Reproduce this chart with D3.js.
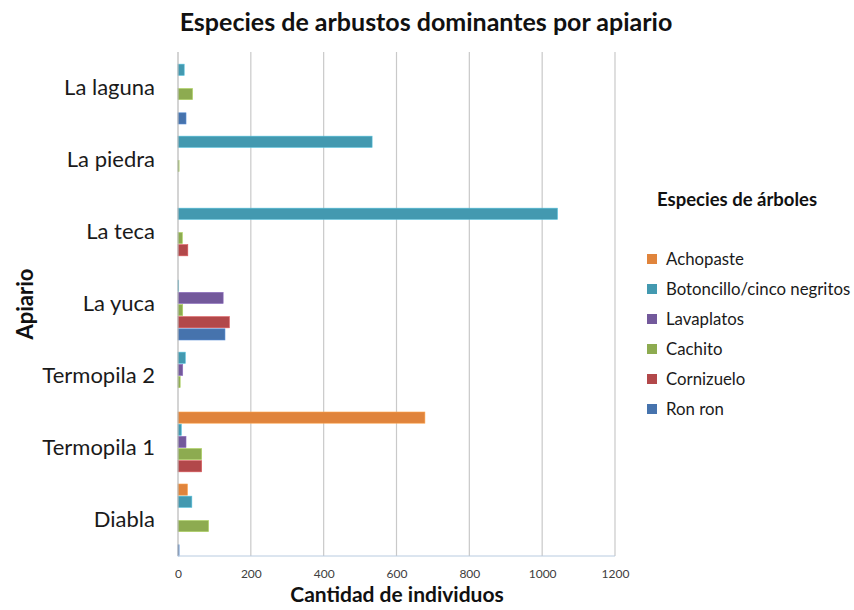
<!DOCTYPE html>
<html>
<head>
<meta charset="utf-8">
<script src="https://cdn.jsdelivr.net/npm/d3@7"></script>
<style>
body { margin: 0; background: #fff; }
svg text { font-family: Lato, "Open Sans", sans-serif; }
</style>
</head>
<body>
<div id="chart"></div>
<script>
let apiarios = ["La laguna", "La piedra", "La teca", "La yuca", "Termopila 2", "Termopila 1", "Diabla"];
let especies = ["Achopaste", "Botoncillo/cinco negritos", "Lavaplatos", "Cachito", "Cornizuelo", "Ron ron"];

// values per apiario, same order as apiarios
let achopaste  = [0, 0, 0, 0, 0, 678, 26];
let botoncillo = [17, 533, 1042, 2, 20, 9, 38];
let lavaplatos = [0, 0, 0, 124, 13, 22, 0];
let cachito    = [40, 3, 12, 13, 6, 65, 84];
let cornizuelo = [0, 0, 27, 141, 0, 65, 0];
let ronron     = [22, 0, 0, 129, 0, 0, 3];

let xTicks = [0, 200, 400, 600, 800, 1000, 1200];
let colores = ["#E0843C", "#4399B0", "#73599B", "#8DAB50", "#B2484A", "#4673AD"];

let series = [achopaste, botoncillo, lavaplatos, cachito, cornizuelo, ronron];

let dimension = {
    width: 854,
    height: 610,
    margin: { top: 52, left: 178, right: 239, bottom: 54 }
};

let svg = d3.select("#chart")
    .append("svg")
    .attr("width", dimension.width)
    .attr("height", dimension.height);

let X = d3.scaleLinear()
    .domain([0, 1200])
    .range([dimension.margin.left, dimension.width - dimension.margin.right]);

let Y = d3.scaleBand()
    .domain(apiarios)
    .range([dimension.margin.top, dimension.height - dimension.margin.bottom]);

let Yinner = d3.scaleBand()
    .domain(especies)
    .range([0, Y.bandwidth()])
    .paddingInner(0.08);

// gridlines
svg.append("g")
    .selectAll("line")
    .data(xTicks.slice(1))
    .enter()
    .append("line")
    .attr("x1", d => X(d))
    .attr("x2", d => X(d))
    .attr("y1", Y.range()[0])
    .attr("y2", Y.range()[1])
    .attr("stroke", "#c9c9c9")
    .attr("stroke-width", 1.2);

// bars
let rows = [];
apiarios.forEach((a, i) => {
    especies.forEach((e, j) => {
        rows.push({ apiario: a, especie: e, value: series[j][i], color: colores[j] });
    });
});

svg.append("g")
    .selectAll("rect")
    .data(rows.filter(d => d.value > 0))
    .enter()
    .append("rect")
    .attr("x", X(0))
    .attr("y", d => Y(d.apiario) + Yinner(d.especie))
    .attr("height", Yinner.bandwidth())
    .attr("width", d => X(d.value) - X(0))
    .attr("fill", d => d.color)
    .attr("stroke", d => d3.color(d.color).brighter(0.6))
    .attr("stroke-width", 0.6);

// axis lines
svg.append("line")
    .attr("x1", X(0)).attr("x2", X(0))
    .attr("y1", Y.range()[0]).attr("y2", Y.range()[1])
    .attr("stroke", "#b8b8b8").attr("stroke-width", 1.2);
svg.append("line")
    .attr("x1", X(0)).attr("x2", X(1200))
    .attr("y1", Y.range()[1]).attr("y2", Y.range()[1])
    .attr("stroke", "#b8cbe0").attr("stroke-width", 1);

// x tick labels
let Xaxis = d3.axisBottom(X).tickValues(xTicks).tickFormat(d3.format("d")).tickSize(0).tickPadding(13);
let gx = svg.append("g")
    .attr("transform", "translate(0," + Y.range()[1] + ")")
    .call(Xaxis);
gx.select(".domain").remove();
gx.selectAll("text")
    .attr("font-size", 12)
    .attr("fill", "#404040");

// y category labels
let Yaxis = d3.axisLeft(Y).tickSize(0).tickPadding(23);
let gy = svg.append("g")
    .attr("transform", "translate(" + X(0) + ",0)")
    .call(Yaxis);
gy.select(".domain").remove();
gy.selectAll("text")
    .attr("font-size", 22)
    .attr("fill", "#1a1a1a");

// titles
svg.append("text")
    .attr("x", 426)
    .attr("y", 31)
    .attr("text-anchor", "middle")
    .attr("font-size", 25)
    .attr("font-weight", "bold")
    .attr("fill", "#111")
    .text("Especies de arbustos dominantes por apiario");

svg.append("text")
    .attr("x", 397)
    .attr("y", 602)
    .attr("text-anchor", "middle")
    .attr("font-size", 21)
    .attr("font-weight", "bold")
    .attr("fill", "#111")
    .text("Cantidad de individuos");

svg.append("text")
    .attr("transform", "translate(33,304) rotate(-90)")
    .attr("text-anchor", "middle")
    .attr("font-size", 22)
    .attr("font-weight", "bold")
    .attr("fill", "#111")
    .text("Apiario");

// legend
svg.append("text")
    .attr("x", 657)
    .attr("y", 206)
    .attr("font-size", 18.5)
    .attr("font-weight", "bold")
    .attr("fill", "#111")
    .text("Especies de árboles");

let legend = svg.append("g")
    .selectAll("g")
    .data(especies)
    .enter()
    .append("g")
    .attr("transform", (d, i) => "translate(647," + (259 + i * 30) + ")");

legend.append("rect")
    .attr("x", 0)
    .attr("y", -5)
    .attr("width", 10)
    .attr("height", 10)
    .attr("fill", (d, i) => colores[i]);

legend.append("text")
    .attr("x", 19)
    .attr("y", 6)
    .attr("font-size", 16.8)
    .attr("fill", "#1a1a1a")
    .text(d => d);
</script>
</body>
</html>
